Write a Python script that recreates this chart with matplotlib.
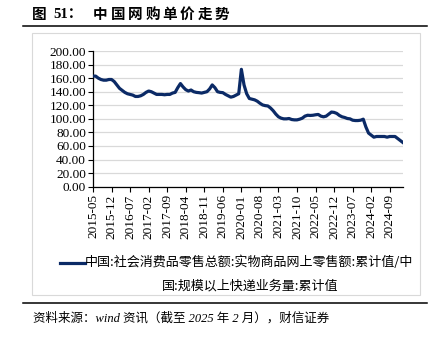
import matplotlib
matplotlib.use("Agg")
import matplotlib.pyplot as plt
from matplotlib.lines import Line2D
from matplotlib.patches import Rectangle
import pandas as pd

# months 2015-05 .. 2025-02
months = [p.strftime("%Y-%m") for p in pd.period_range("2015-05", "2025-02", freq="M")]

# 网购单价
price = [163, 163, 160, 158, 157, 157, 158, 158, 155, 150,
         145, 142, 139, 137, 136, 135, 133, 133, 134, 136,
         139, 141, 140, 138, 136, 136, 136, 135.5, 136, 136,
         138, 139, 146, 152, 147, 143, 141, 142.5, 140, 139,
         138.6, 138, 139, 140, 144, 150, 146, 140, 139, 138.6,
         136, 134, 132, 133, 135, 137, 173, 150, 137, 130,
         129, 128, 126, 123, 120.5, 119.5, 119, 116, 112, 107,
         103, 101, 100, 100, 100.5, 99, 98.5, 98.5, 99.5, 101,
         104, 105.3, 105, 105.3, 106, 106.5, 104, 103, 104, 107,
         110, 109.5, 108, 105, 103, 102, 100.5, 100, 98, 97.5,
         97.5, 98, 99.5, 88, 79, 76, 73, 74, 74, 74,
         74, 73, 74, 74, 74, 71, 68, 65]

series_label = "中国:社会消费品零售总额:实物商品网上零售额:累计值/中\n国:规模以上快递业务量:累计值"
title_head = "图"
title_num = "51："
title_body = "中国网购单价走势"
source = "资料来源：wind 资讯（截至 2025 年 2 月），财信证券"

W, H = 439, 339
navy = "#0b2a66"
mixed = ["Liberation Serif", "Noto Sans CJK SC"]

fig = plt.figure(figsize=(W / 100, H / 100), dpi=100)

def fx(px):
    return px / W

def fy(py):
    return 1 - py / H

# title (spaced out like the report style)
fig.text(fx(32), fy(15), title_head, family=mixed, fontweight="bold",
         fontsize=10.5, va="center", ha="left")
fig.text(fx(53), fy(15), title_num, family=mixed, fontweight="bold",
         fontsize=10.5, va="center", ha="left")
for i, ch in enumerate(title_body):
    fig.text(fx(93 + i * 17.4), fy(15), ch, family=mixed, fontweight="bold",
             fontsize=10.5, va="center", ha="left")

fig.add_artist(Line2D([fx(23), fx(427)], [fy(25.7), fy(25.7)], color="black", lw=1.1))
fig.add_artist(Line2D([fx(23), fx(427)], [fy(303.3), fy(303.3)], color="black", lw=1.1))
fig.add_artist(Rectangle((fx(32.5), fy(294.5)), fx(420) - fx(32.5), fy(33.3) - fy(294.5),
                         fill=False, edgecolor="#d9d9d9", lw=0.8))
fig.text(fx(33), fy(318), source, family=mixed, style="italic", fontsize=9,
         va="center", ha="left")

# axes
ax = fig.add_axes([fx(93), fy(186.7), fx(403) - fx(93), fy(51) - fy(186.7)])
x = list(range(len(months)))
ax.plot(x, price, color=navy, lw=2.3, solid_joinstyle="round", zorder=3)

ax.set_xlim(0, len(months) - 1)
ax.set_ylim(0, 200)
ax.set_yticks(range(0, 201, 20))
ax.set_yticklabels([f"{v:.2f}" for v in range(0, 201, 20)])
ax.set_xticks(x[::7])
ax.set_xticklabels(months[::7], rotation=90)
for lab in ax.get_xticklabels() + ax.get_yticklabels():
    lab.set_family("Liberation Serif")
    lab.set_fontsize(9.5)
ax.tick_params(axis="y", length=3.5, width=0.8, pad=1.5, color="black")
ax.tick_params(axis="x", length=3.5, width=0.8, pad=2, color="black")
ax.grid(axis="y", color="#d9d9d9", lw=0.9)
ax.set_axisbelow(True)
for s in ["top", "right"]:
    ax.spines[s].set_visible(False)
for s in ["left", "bottom"]:
    ax.spines[s].set_color("black")
    ax.spines[s].set_linewidth(0.9)

# legend
line1, line2 = series_label.split("\n")
fig.add_artist(Line2D([fx(60), fx(85)], [fy(262.5), fy(262.5)], color=navy, lw=2.3))
fig.text(fx(85), fy(262.5), line1, family=["Noto Sans CJK SC", "DejaVu Sans"],
         fontsize=9.4, va="center", ha="left")
fig.text(fx(250), fy(286), line2, family=["Noto Sans CJK SC", "DejaVu Sans"],
         fontsize=9.4, va="center", ha="center")

fig.savefig("out.png", dpi=100)
